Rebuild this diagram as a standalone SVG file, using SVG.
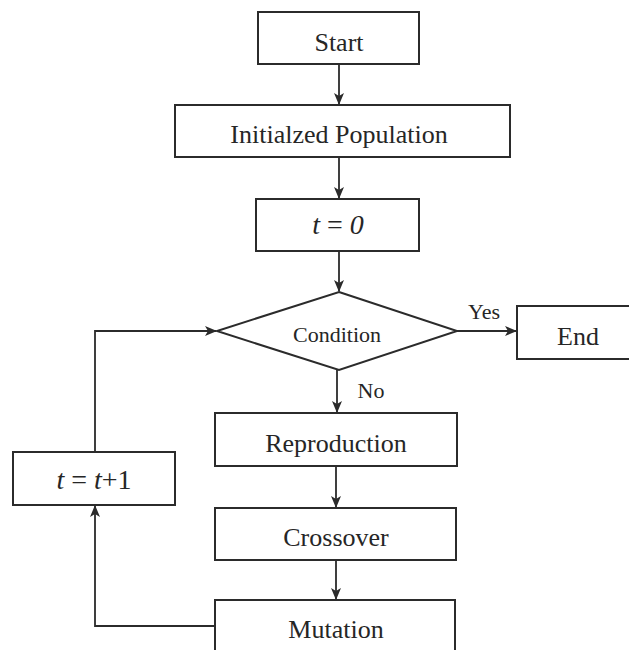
<svg xmlns="http://www.w3.org/2000/svg" width="629" height="650" viewBox="0 0 629 650">
  <style>
    .box { fill: #fff; stroke: #2b2b2b; stroke-width: 2; }
    .wire { fill: none; stroke: #2b2b2b; stroke-width: 1.8; }
    .lbl { font-family: "Liberation Serif", "Times New Roman", serif; fill: #262626; text-anchor: middle; }
    .big { font-size: 26px; }
    .math { font-size: 28px; }
    .mid { font-size: 22px; }
    .sm { font-size: 22px; }
    .it { font-style: italic; }
  </style>
  <defs>
    <marker id="arrow" viewBox="0 0 12 10" markerWidth="12" markerHeight="10" refX="11" refY="5" orient="auto" markerUnits="userSpaceOnUse">
      <path d="M0,0 L12,5 L0,10 L3,5 z" fill="#2b2b2b"/>
    </marker>
  </defs>
  <rect width="629" height="650" fill="#fff"/>

  <g id="connectors">
    <line class="wire" x1="339" y1="64" x2="339" y2="104" marker-end="url(#arrow)"/>
    <line class="wire" x1="339" y1="157" x2="339" y2="198" marker-end="url(#arrow)"/>
    <line class="wire" x1="339" y1="251" x2="339" y2="291" marker-end="url(#arrow)"/>
    <line class="wire" x1="457" y1="331" x2="516" y2="331" marker-end="url(#arrow)"/>
    <line class="wire" x1="337" y1="370" x2="337" y2="412" marker-end="url(#arrow)"/>
    <line class="wire" x1="336" y1="466" x2="336" y2="507" marker-end="url(#arrow)"/>
    <line class="wire" x1="336" y1="560" x2="336" y2="599" marker-end="url(#arrow)"/>
    <polyline class="wire" points="214,626 95,626 95,506" marker-end="url(#arrow)"/>
    <polyline class="wire" points="95,452 95,331 216,331" marker-end="url(#arrow)"/>
    <text class="lbl sm" x="484" y="319">Yes</text>
    <text class="lbl sm" x="371" y="398">No</text>
  </g>

  <g id="start">
    <rect class="box" x="258" y="12" width="161" height="52"/>
    <text class="lbl big" x="339" y="51">Start</text>
  </g>

  <g id="init">
    <rect class="box" x="175" y="105" width="335" height="52"/>
    <text class="lbl big" x="339" y="143">Initialzed Population</text>
  </g>

  <g id="t0">
    <rect class="box" x="256" y="199" width="163" height="52"/>
    <text class="lbl math" x="338" y="234"><tspan class="it">t</tspan> = <tspan class="it">0</tspan></text>
  </g>

  <g id="condition">
    <polygon class="box" points="339,292 457,331 339,370 217,331"/>
    <text class="lbl mid" x="337" y="342">Condition</text>
  </g>

  <g id="end">
    <rect class="box" x="517" y="306" width="130" height="53"/>
    <text class="lbl big" x="578" y="345">End</text>
  </g>

  <g id="reproduction">
    <rect class="box" x="215" y="413" width="242" height="53"/>
    <text class="lbl big" x="336" y="452">Reproduction</text>
  </g>

  <g id="increment">
    <rect class="box" x="13" y="452" width="162" height="53"/>
    <text class="lbl math" x="94" y="489"><tspan class="it">t</tspan> = <tspan class="it">t</tspan>+1</text>
  </g>

  <g id="crossover">
    <rect class="box" x="215" y="508" width="241" height="52"/>
    <text class="lbl big" x="336" y="546">Crossover</text>
  </g>

  <g id="mutation">
    <rect class="box" x="215" y="600" width="240" height="62"/>
    <text class="lbl big" x="336" y="638">Mutation</text>
  </g>
</svg>
